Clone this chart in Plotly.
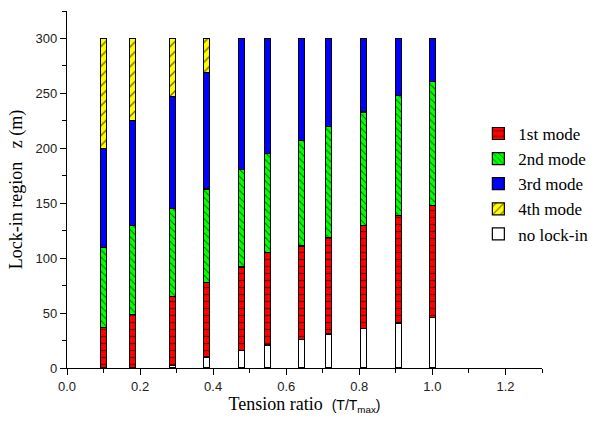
import plotly.graph_objects as go

tension_ratio = [0.10, 0.18, 0.288, 0.382, 0.477, 0.549, 0.641, 0.715, 0.811, 0.907, 1.00]
no_lock_in = [0, 0, 2, 10, 16, 21, 26, 31, 36, 41, 46]
mode1 = [37, 49, 63, 68, 76, 84, 85, 88, 94, 98, 102]
mode2 = [73, 81, 80, 85, 89, 90, 96, 101, 103, 109, 113]
mode3 = [90, 95, 102, 106, 119, 105, 93, 80, 67, 52, 39]
mode4 = [100, 75, 53, 31, 0, 0, 0, 0, 0, 0, 0]

x_ticks = [0.0, 0.2, 0.4, 0.6, 0.8, 1.0, 1.2]
x_tick_labels = ["0.0", "0.2", "0.4", "0.6", "0.8", "1.0", "1.2"]
y_ticks = [0, 50, 100, 150, 200, 250, 300]

series = [
    ("no lock-in", no_lock_in, "#FFFFFF", "", "#000000", 6, 5),
    ("1st mode", mode1, "#FF0000", "-", "#7A0000", 7, 1),
    ("2nd mode", mode2, "#00FF00", "\\", "#006000", 5, 2),
    ("3rd mode", mode3, "#0000FF", "", "#0000FF", 6, 3),
    ("4th mode", mode4, "#FFFF00", "/", "#6B5A00", 7, 4),
]

fig = go.Figure()
for name, vals, col, shape, fg, size, rank in series:
    fig.add_trace(go.Bar(
        x=tension_ratio, y=vals, name=name, width=0.016,
        legendrank=rank,
        marker=dict(
            color=col,
            line=dict(color="#000000", width=1.2),
            pattern=dict(shape=shape, bgcolor=col, fgcolor=fg, size=size,
                         solidity=0.18, fillmode="replace"),
        ),
    ))

fig.update_layout(
    width=594, height=423,
    margin=dict(l=67, r=52, t=11, b=55, autoexpand=False),
    barmode="stack",
    plot_bgcolor="white", paper_bgcolor="white",
    font=dict(family="Liberation Sans", color="#000000"),
    legend=dict(
        x=0.866, y=0.706, xanchor="left", yanchor="top",
        traceorder="normal",
        font=dict(family="Liberation Serif", size=17, color="#000000"),
        bgcolor="rgba(0,0,0,0)", itemwidth=30, tracegroupgap=0,
    ),
    showlegend=True,
)
fig.update_xaxes(
    range=[0, 1.3], tickvals=x_ticks, ticktext=x_tick_labels,
    showgrid=False, zeroline=False, showline=True, linecolor="#000000", linewidth=1.2,
    ticks="outside", ticklen=6, tickcolor="#000000", tickwidth=1.2,
    minor=dict(dtick=0.1, tick0=0, ticks="outside", ticklen=4, tickcolor="#000000", tickwidth=1.2),
    tickfont=dict(family="Liberation Sans", size=13, color="#222222"),
    title=dict(
        text="Tension ratio  <span style='font-family:Liberation Sans;font-size:14px'>(T/T<sub>max</sub>)</span>",
        font=dict(family="Liberation Serif", size=18, color="#000000"), standoff=4,
    ),
)
fig.update_yaxes(
    range=[0, 325], tickvals=y_ticks,
    showgrid=False, zeroline=False, showline=True, linecolor="#000000", linewidth=1.2,
    ticks="outside", ticklen=6, tickcolor="#000000", tickwidth=1.2,
    minor=dict(dtick=25, tick0=0, ticks="outside", ticklen=4, tickcolor="#000000", tickwidth=1.2),
    tickfont=dict(family="Liberation Sans", size=13, color="#222222"),
    title=dict(
        text="Lock-in region   z (m)",
        font=dict(family="Liberation Serif", size=18, color="#000000"), standoff=8,
    ),
)

fig.write_html("out.html")
